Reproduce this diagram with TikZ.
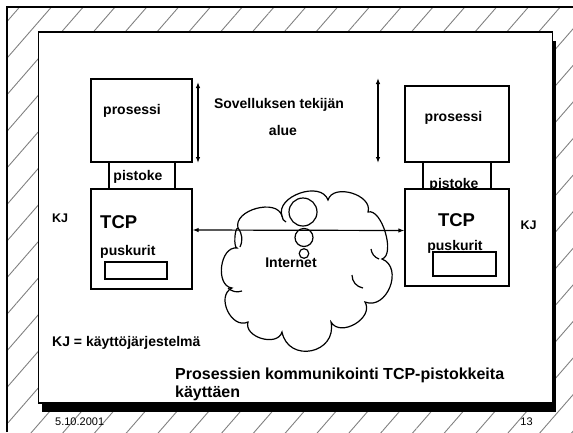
\documentclass[tikz,border=0pt]{standalone}
\usepackage{fontspec}
\setmainfont{Liberation Sans}
\usetikzlibrary{arrows.meta,patterns.meta}
\begin{document}
\begin{tikzpicture}[x=1pt,y=-1pt,
  frame/.style={draw=black, line width=1.3pt},
  box/.style={draw=black, fill=white, line width=1.2pt, rectangle, inner sep=0pt},
  lbl/.style={inner sep=0pt, font=\fontsize{14}{16}\selectfont\bfseries},
  big/.style={inner sep=0pt, font=\fontsize{18.5}{20}\selectfont\bfseries},
  kj/.style={inner sep=0pt, font=\fontsize{12.5}{14}\selectfont\bfseries},
  foot/.style={inner sep=0pt, font=\fontsize{11}{12}\selectfont},
  dbl/.style={line width=1.2pt, {Latex[length=6pt,width=4.5pt]}-{Latex[length=6pt,width=4.5pt]}},
  puff/.style={line width=1.2pt},
  pb/.style={bend left=90, looseness=#1}
]
\useasboundingbox (0,0) rectangle (573,432);
% hatched background
\fill[pattern={Lines[angle=49, distance=24pt, line width=0.9pt]}, pattern color=black!50]
  (7,7) rectangle (573,432);
\draw[frame] (7,432) -- (7,7) -- (573,7);
% slide with shadow
\fill[black] (41.5,41) rectangle (556,412);
\draw[fill=white, line width=1.2pt] (38.5,32) rectangle (552.5,403);

% left host
\node[box, minimum width=101, minimum height=83] (procL) at (141.5,120.5) {};
\node[box, minimum width=66, minimum height=27] (sockL) at (142,175.5) {};
\node[box, minimum width=101, minimum height=100] (tcpL) at (141.5,239) {};
\node[lbl] (procLt) at (132,111) {prosessi};
\node[lbl] (sockLt) at (138,177) {pistoke};
\node[big, anchor=west] (tcpLt) at (100,222) {TCP};
\node[lbl, anchor=west] (pusLt) at (100,252) {puskurit};
\node[box, minimum width=62, minimum height=17] (bufL) at (136,270.5) {};

% right host
\node[box, minimum width=104, minimum height=76] (procR) at (457,124) {};
\node[box, minimum width=68, minimum height=27] (sockR) at (457,175.5) {};
\node[lbl] (sockRt) at (454,185) {pistoke};
\node[box, minimum width=104, minimum height=97] (tcpR) at (457,237.5) {};
\node[lbl] (procRt) at (453.5,118) {prosessi};
\node[big] (tcpRt) at (456.5,220) {TCP};
\node[lbl] (pusRt) at (455,247) {puskurit};
\node[box, minimum width=63, minimum height=24] (bufR) at (464.5,264) {};

% KJ labels
\node[kj] (kjL) at (60,218) {KJ};
\node[kj] (kjR) at (528.5,225) {KJ};

% application area
\coordinate (aL1) at (198,82);
\coordinate (aL2) at (198,163);
\coordinate (aR1) at (378,78);
\coordinate (aR2) at (378,163);
\draw[dbl] (aL1) -- (aL2);
\draw[dbl] (aR1) -- (aR2);
\node[lbl] (sov) at (279,105) {Sovelluksen tekijän};
\node[lbl] (alue) at (283,130) {alue};

% cloud
\draw[puff, fill=white] (238,228) to[pb=1.05] (282,216) to[pb=1.1] (328,200)
  to[pb=1.1] (368,212) to[pb=0.75] (382,259) to[pb=1.3] (365,302)
  to[pb=1.2] (331,322) to[pb=1.65] (282,332) to[pb=1.15] (248,322)
  to[pb=1.25] (232,288) to[pb=1.1] (237,248) to[pb=0.45] cycle;
\draw[puff] (238,228) to[bend left=30] (240,247);
\draw[puff] (228,288) to[bend right=30] (242,291);
\draw[puff] (352,275) to[bend right=40] (363,288);
\draw[puff] (371,249) to[bend right=30] (379,259);
\draw[puff] (282,216) to[bend right=30] (286,222);
\draw[line width=1.2pt] (303,212) circle[radius=14];
\draw[line width=1.2pt] (304,237.5) circle[radius=9];
\draw[line width=1.2pt] (304,253.5) circle[radius=4.8];
\draw[dbl] ([yshift=9pt]tcpL.east) -- ([yshift=7pt]tcpR.west);
\node[lbl] (inet) at (291,263) {Internet};

% bottom texts
\node[lbl, anchor=west] (kjdef) at (52,343) {KJ = käyttöjärjestelmä};
\node[inner sep=0pt, anchor=west, align=left, font=\fontsize{16}{18}\selectfont\bfseries] (title) at (175,384) {Prosessien kommunikointi TCP-pistokkeita\\käyttäen};
\node[foot, anchor=west] (date) at (55,422) {5.10.2001};
\node[foot] (page) at (526.5,422) {13};
\end{tikzpicture}
\end{document}
